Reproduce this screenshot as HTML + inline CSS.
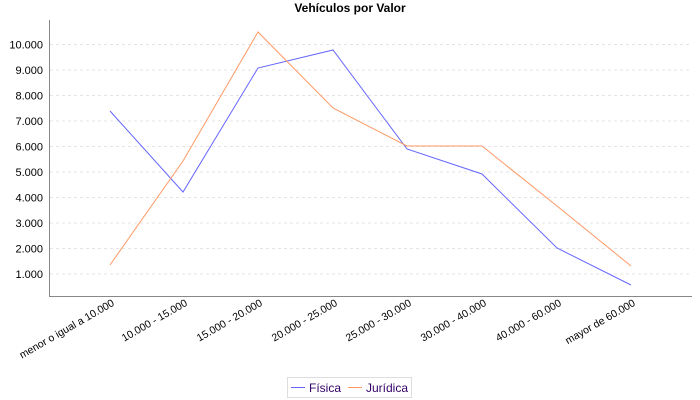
<!DOCTYPE html>
<html><head><meta charset="utf-8"><style>body{margin:0;background:#fff}svg{display:block}</style></head><body>
<svg width="700" height="400" xmlns="http://www.w3.org/2000/svg" font-family="Liberation Sans, sans-serif">
<rect width="700" height="400" fill="#fff"/>
<text x="350" y="12" text-anchor="middle" font-weight="bold" font-size="12">Vehículos por Valor</text>
<g stroke="#e4e4e4" stroke-dasharray="3,3" stroke-width="1">
<line x1="50" x2="692" y1="44.5" y2="44.5"/><line x1="50" x2="692" y1="70" y2="70"/><line x1="50" x2="692" y1="95.5" y2="95.5"/><line x1="50" x2="692" y1="121" y2="121"/><line x1="50" x2="692" y1="146.5" y2="146.5"/><line x1="50" x2="692" y1="172" y2="172"/><line x1="50" x2="692" y1="197.5" y2="197.5"/><line x1="50" x2="692" y1="223" y2="223"/><line x1="50" x2="692" y1="248.5" y2="248.5"/><line x1="50" x2="692" y1="274" y2="274"/>
</g>
<g font-size="11" text-anchor="end" fill="#000">
<text x="43" y="48.5">10.000</text><text x="43" y="74">9.000</text><text x="43" y="99.5">8.000</text><text x="43" y="125">7.000</text><text x="43" y="150.5">6.000</text><text x="43" y="176">5.000</text><text x="43" y="201.5">4.000</text><text x="43" y="227">3.000</text><text x="43" y="252.5">2.000</text><text x="43" y="278">1.000</text>
</g>
<g stroke="#888" stroke-width="1"><line x1="49.5" y1="20" x2="49.5" y2="297"/><line x1="49" y1="296.5" x2="692" y2="296.5"/></g>
<polyline fill="none" stroke="#6666ff" stroke-width="1" points="110,111 183,192 258,68 333,50 407,149 482,174 557,248 631,285"/>
<polyline fill="none" stroke="#ff9966" stroke-width="1" points="110,265 183,161 258,32 333,108 407,146 482,146 557,206 631,266"/>
<g font-size="10.5" text-anchor="end">
<text transform="translate(115,305) rotate(-30)">menor o igual a 10.000</text>
<text transform="translate(188,305) rotate(-30)">10.000 - 15.000</text>
<text transform="translate(263,305) rotate(-30)">15.000 - 20.000</text>
<text transform="translate(338,305) rotate(-30)">20.000 - 25.000</text>
<text transform="translate(412,305) rotate(-30)">25.000 - 30.000</text>
<text transform="translate(487,305) rotate(-30)">30.000 - 40.000</text>
<text transform="translate(562,305) rotate(-30)">40.000 - 60.000</text>
<text transform="translate(636,305) rotate(-30)">mayor de 60.000</text>
</g>
<rect x="287.5" y="377.5" width="124" height="20" fill="#fff" stroke="#ddd"/>
<line x1="291" y1="387.5" x2="305" y2="387.5" stroke="#6666ff"/>
<text x="309" y="392" font-size="12" fill="#330066">Física</text>
<line x1="348" y1="387.5" x2="362" y2="387.5" stroke="#ff9966"/>
<text x="366" y="392" font-size="12" fill="#330066">Jurídica</text>
</svg>
</body></html>
